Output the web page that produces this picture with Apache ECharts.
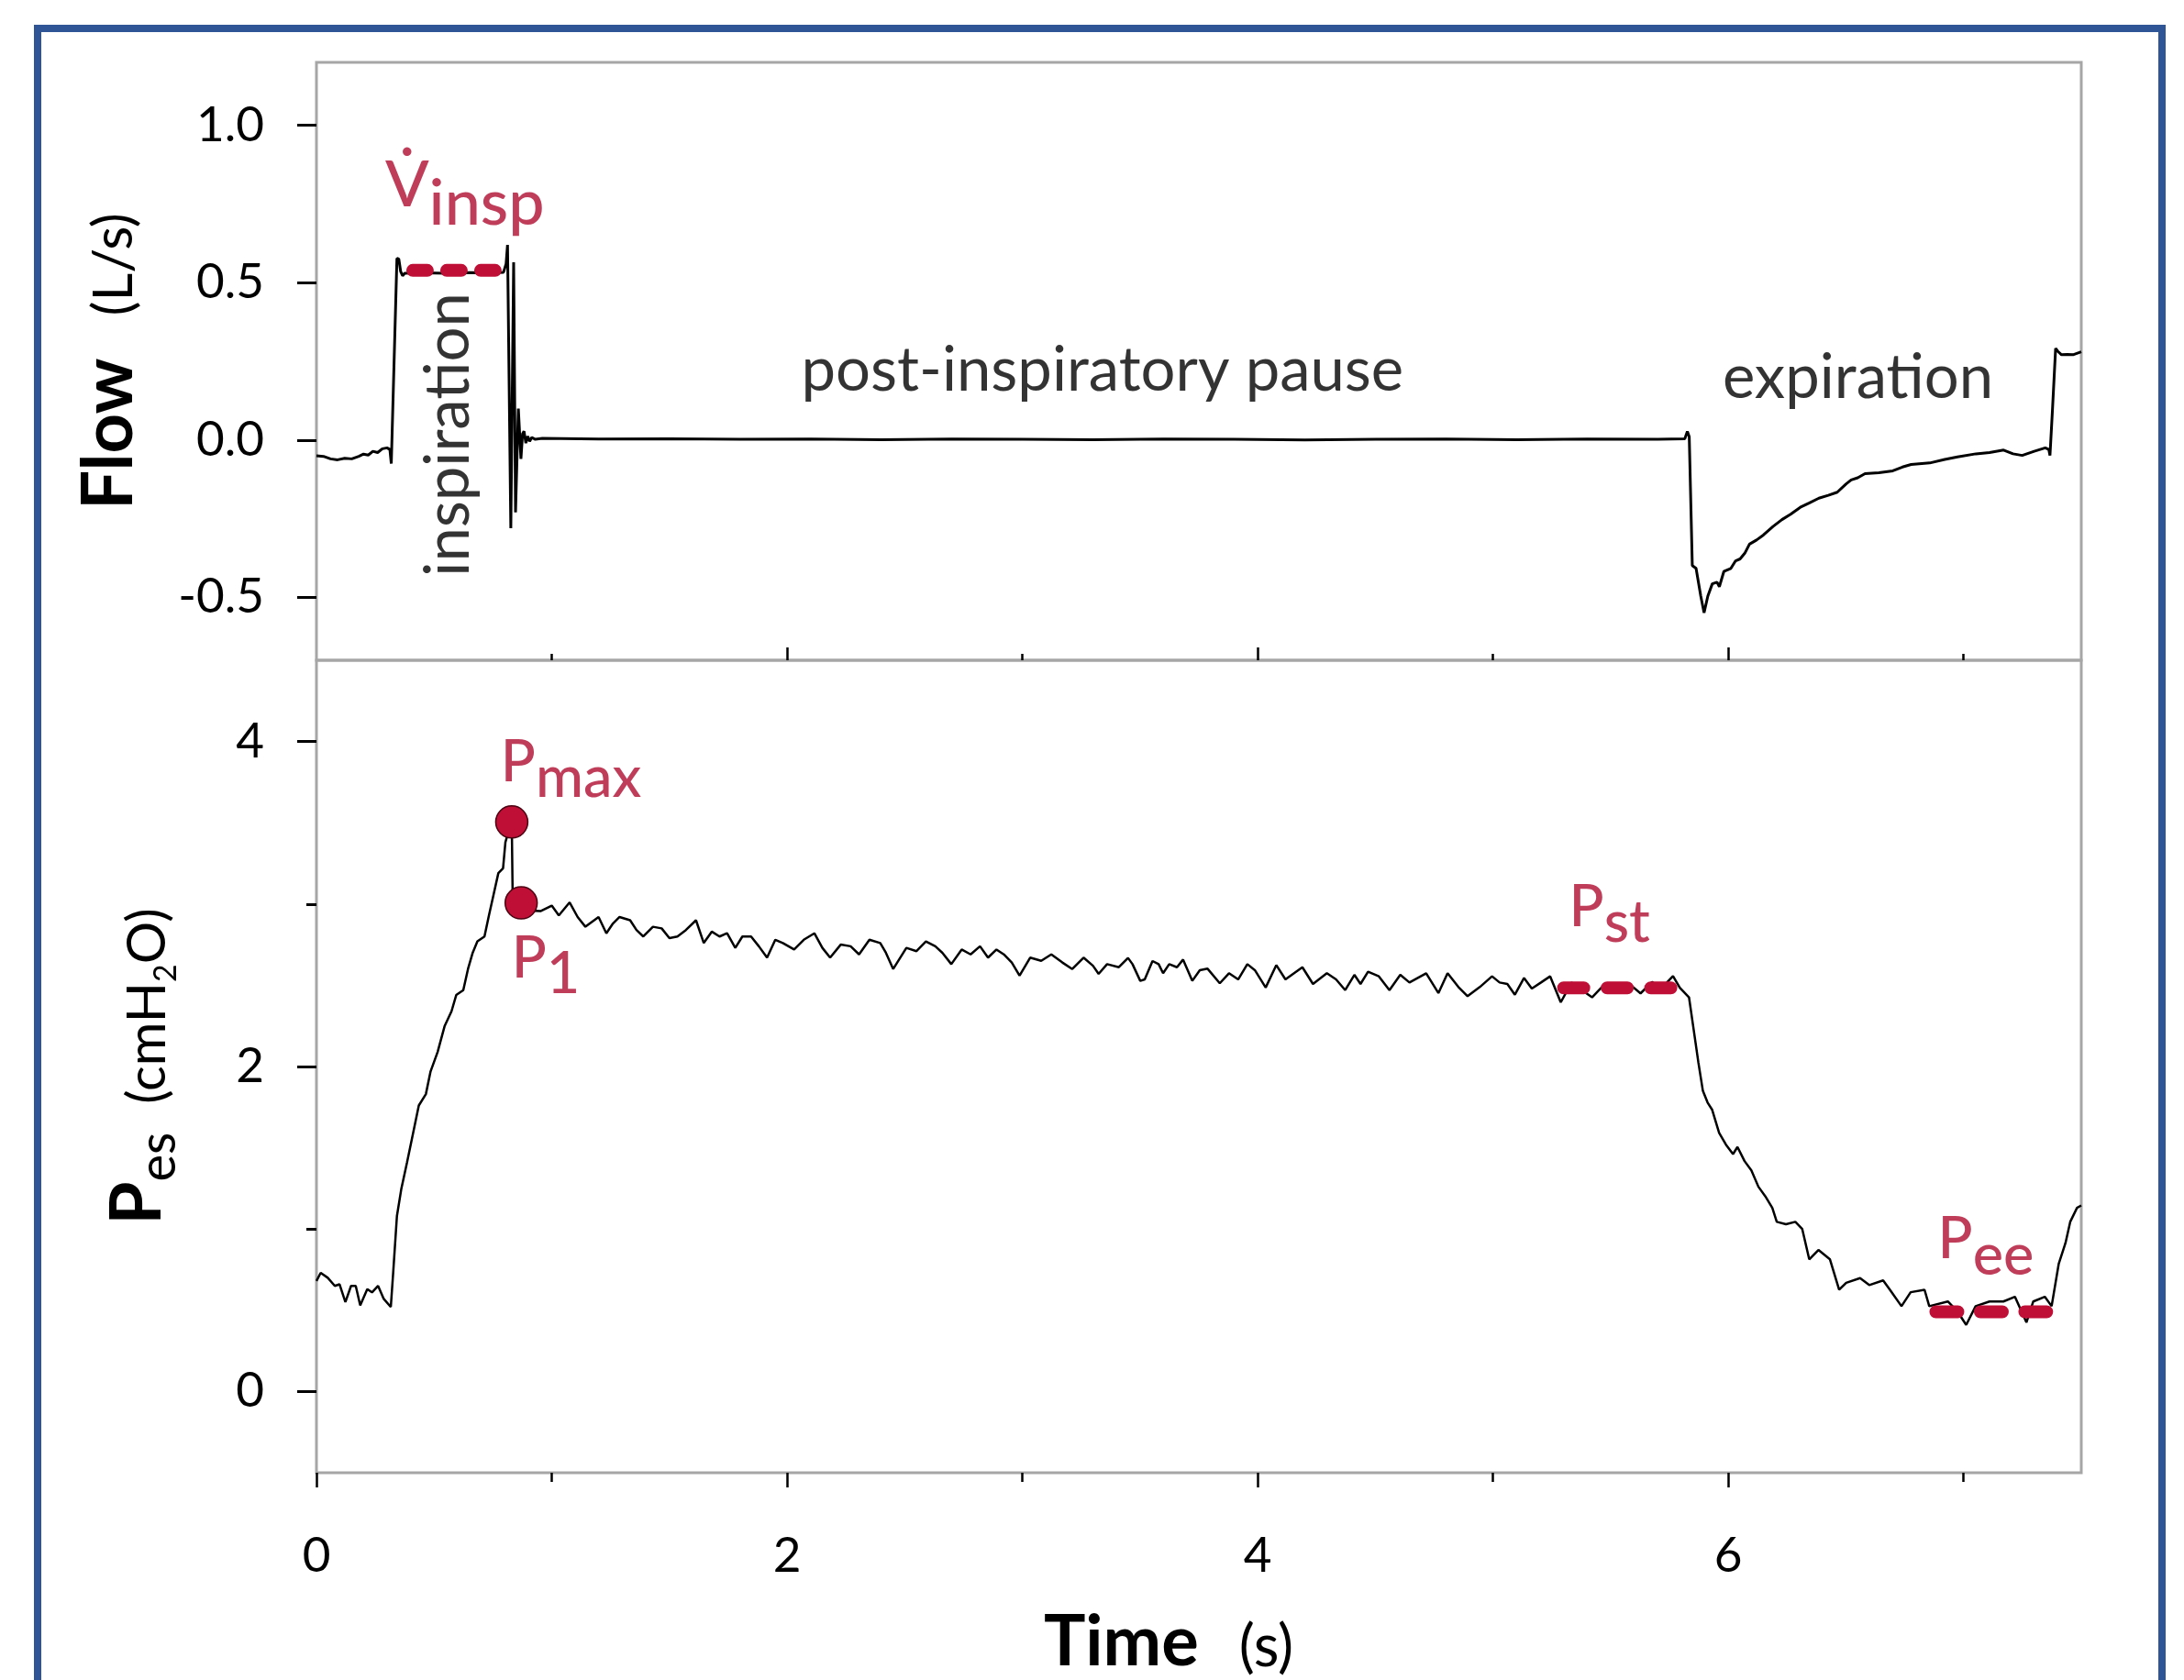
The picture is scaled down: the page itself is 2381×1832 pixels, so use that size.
<!DOCTYPE html>
<html>
<head>
<meta charset="utf-8">
<title>Flow and oesophageal pressure</title>
<script src="https://cdn.jsdelivr.net/npm/echarts@6/dist/echarts.min.js"></script>
<style>
  html, body { margin: 0; padding: 0; background: #ffffff; }
  #main { width: 2381px; height: 1832px; }
</style>
</head>
<body>
<div id="main"></div>
<script>
// ---- data (time in s) ----
var flowTrace = [
  [0.000,-0.050],[0.030,-0.052],[0.060,-0.060],[0.090,-0.063],[0.120,-0.058],[0.150,-0.060],[0.180,-0.052],
  [0.200,-0.045],[0.220,-0.048],[0.240,-0.036],[0.260,-0.040],[0.280,-0.028],[0.300,-0.025],[0.312,-0.030],
  [0.318,-0.075],[0.342,0.577],[0.350,0.575],[0.358,0.535],[0.366,0.522],[0.375,0.530],[0.450,0.531],
  [0.550,0.530],[0.650,0.532],[0.750,0.531],[0.795,0.533],[0.806,0.560],[0.812,0.620],[0.826,-0.280],
  [0.838,0.565],[0.846,-0.230],[0.858,0.100],[0.869,-0.060],[0.876,0.020],[0.882,0.028],[0.890,-0.010],
  [0.898,0.012],[0.906,-0.004],[0.915,0.008],[0.930,0.002],[0.960,0.005],[1.200,0.003],[1.500,0.004],
  [1.800,0.002],[2.100,0.003],[2.400,0.001],[2.700,0.003],[3.000,0.002],[3.300,0.001],[3.600,0.003],
  [3.900,0.002],[4.200,0.000],[4.500,0.002],[4.800,0.003],[5.100,0.001],[5.400,0.003],[5.700,0.002],
  [5.815,0.004],[5.826,0.027],[5.834,0.010],[5.847,-0.399],[5.863,-0.408],[5.883,-0.496],[5.897,-0.549],
  [5.913,-0.496],[5.932,-0.457],[5.952,-0.452],[5.962,-0.466],[5.981,-0.418],[6.011,-0.408],[6.031,-0.384],
  [6.050,-0.378],[6.070,-0.360],[6.090,-0.331],[6.120,-0.318],[6.149,-0.302],[6.190,-0.275],[6.228,-0.253],
  [6.265,-0.236],[6.306,-0.214],[6.345,-0.200],[6.385,-0.185],[6.425,-0.176],[6.463,-0.166],[6.500,-0.140],
  [6.522,-0.127],[6.550,-0.120],[6.581,-0.107],[6.640,-0.104],[6.699,-0.098],[6.740,-0.086],[6.777,-0.078],
  [6.856,-0.073],[6.920,-0.062],[6.974,-0.054],[7.052,-0.044],[7.110,-0.040],[7.170,-0.032],[7.210,-0.044],
  [7.249,-0.049],[7.300,-0.036],[7.347,-0.025],[7.362,-0.030],[7.367,-0.049],[7.377,0.087],[7.391,0.291],
  [7.400,0.282],[7.416,0.271],[7.440,0.272],[7.465,0.271],[7.500,0.280]
];

var pesTrace = [
  [0.000,0.68],[0.018,0.73],[0.048,0.70],[0.078,0.65],[0.098,0.66],[0.123,0.55],[0.147,0.65],[0.167,0.65],
  [0.186,0.53],[0.216,0.63],[0.236,0.61],[0.262,0.65],[0.286,0.57],[0.316,0.52],[0.326,0.73],[0.342,1.08],
  [0.361,1.25],[0.385,1.41],[0.405,1.55],[0.435,1.76],[0.465,1.83],[0.485,1.97],[0.515,2.09],[0.545,2.25],
  [0.574,2.34],[0.594,2.44],[0.624,2.47],[0.644,2.60],[0.664,2.70],[0.684,2.77],[0.714,2.80],[0.733,2.93],
  [0.753,3.06],[0.773,3.19],[0.793,3.22],[0.803,3.38],[0.817,3.45],[0.830,3.50],[0.834,3.03],[0.870,3.00],
  [0.905,2.96],[0.952,2.956],[1.000,2.99],[1.030,2.93],[1.076,3.01],[1.110,2.92],[1.143,2.86],[1.199,2.92],
  [1.232,2.82],[1.260,2.88],[1.288,2.92],[1.333,2.90],[1.360,2.84],[1.389,2.80],[1.430,2.86],[1.467,2.85],
  [1.500,2.79],[1.534,2.80],[1.570,2.84],[1.613,2.90],[1.646,2.76],[1.680,2.83],[1.713,2.80],[1.745,2.82],
  [1.780,2.73],[1.810,2.80],[1.847,2.80],[1.880,2.74],[1.915,2.67],[1.950,2.78],[1.982,2.76],[2.030,2.72],
  [2.071,2.78],[2.116,2.82],[2.150,2.73],[2.183,2.67],[2.228,2.75],[2.270,2.74],[2.306,2.69],[2.350,2.78],
  [2.396,2.76],[2.420,2.70],[2.451,2.60],[2.507,2.73],[2.550,2.71],[2.590,2.77],[2.630,2.74],[2.660,2.70],
  [2.698,2.63],[2.742,2.72],[2.780,2.69],[2.820,2.74],[2.854,2.67],[2.890,2.72],[2.921,2.69],[2.955,2.64],
  [2.988,2.56],[3.033,2.67],[3.080,2.65],[3.123,2.69],[3.170,2.64],[3.212,2.60],[3.260,2.67],[3.300,2.62],
  [3.324,2.57],[3.360,2.63],[3.410,2.611],[3.449,2.668],[3.468,2.63],[3.501,2.527],[3.520,2.536],[3.553,2.649],
  [3.579,2.63],[3.598,2.574],[3.624,2.63],[3.657,2.611],[3.683,2.658],[3.722,2.527],[3.754,2.593],[3.787,2.602],
  [3.839,2.512],[3.878,2.574],[3.917,2.536],[3.956,2.63],[3.988,2.593],[4.034,2.486],[4.079,2.624],[4.118,2.536],
  [4.190,2.611],[4.235,2.508],[4.294,2.574],[4.333,2.536],[4.372,2.470],[4.411,2.564],[4.437,2.508],[4.469,2.583],
  [4.515,2.555],[4.560,2.470],[4.606,2.564],[4.645,2.517],[4.716,2.574],[4.768,2.452],[4.807,2.574],[4.853,2.489],
  [4.892,2.433],[4.944,2.489],[4.996,2.555],[5.028,2.517],[5.061,2.508],[5.093,2.442],[5.132,2.545],[5.165,2.480],
  [5.204,2.517],[5.243,2.555],[5.288,2.395],[5.334,2.517],[5.386,2.461],[5.421,2.426],[5.460,2.484],[5.519,2.510],
  [5.578,2.510],[5.627,2.450],[5.676,2.520],[5.715,2.480],[5.765,2.556],[5.794,2.484],[5.833,2.426],[5.853,2.225],
  [5.873,2.023],[5.892,1.850],[5.912,1.778],[5.931,1.735],[5.961,1.591],[5.990,1.519],[6.020,1.461],[6.039,1.505],
  [6.069,1.418],[6.098,1.361],[6.128,1.260],[6.157,1.202],[6.187,1.130],[6.206,1.044],[6.245,1.029],[6.285,1.044],
  [6.314,1.001],[6.344,0.813],[6.383,0.871],[6.432,0.813],[6.471,0.626],[6.501,0.669],[6.560,0.698],[6.599,0.655],
  [6.658,0.684],[6.687,0.626],[6.736,0.525],[6.775,0.611],[6.834,0.626],[6.854,0.525],[6.933,0.554],[6.972,0.496],
  [7.011,0.410],[7.051,0.525],[7.110,0.554],[7.169,0.554],[7.218,0.583],[7.267,0.425],[7.296,0.554],[7.345,0.583],
  [7.374,0.525],[7.404,0.784],[7.433,0.914],[7.453,1.044],[7.482,1.130],[7.500,1.145]
];

// reference levels (dashed red) and points
var vinspLevel = [[0.409, 0.539], [0.760, 0.539]];
var pstLevel = [[5.300, 2.484], [5.756, 2.484]];
var peeLevel = [[6.882, 0.490], [7.353, 0.490]];
var pesPoints = [[0.830, 3.505], [0.870, 3.007]];

// tick values
var timeMajor = [0, 2, 4, 6];
var timeMinor = [1, 3, 5, 7];
var flowTicks = [-0.5, 0, 0.5, 1.0];
var pesMajor = [0, 2, 4];
var pesMinor = [1, 3];

// annotations: [t, value, text] / [t, value, main, subscript]
var flowNotes = [[3.34, 0.221, 'post-inspiratory pause'], [6.551, 0.195, 'expiration']];
var flowRotNotes = [[0.561, 0.017, 'inspiration']];
var flowMarks = [[0.292, 0.807, 'V\u0307', 'insp']];
var pesMarks = [[0.783, 3.871, 'P', 'max'], [0.829, 2.662, 'P', '1'], [5.323, 2.979, 'P', 'st'], [6.890, 0.934, 'P', 'ee']];

var FONT = 'Lato, "Open Sans", sans-serif';
var RED = '#C00F36';
var RED_TEXT = '#B00C31';

var dom = document.getElementById('main');
var myChart = echarts.init(dom);

function tickAxis(grid, vals, len, inside, withLabels, extra) {
  var ax = {
    gridIndex: grid, type: 'value', position: 'bottom',
    min: 0, max: 7.5,
    axisLine: { show: false, onZero: false }, splitLine: { show: false },
    axisTick: { show: true, inside: inside, length: len, customValues: vals, lineStyle: { color: '#000', width: 2.5 } },
    axisLabel: { show: withLabels, customValues: vals, fontSize: 53, color: '#000', fontFamily: FONT, margin: 64 }
  };
  return Object.assign(ax, extra || {});
}

function yAxisOf(grid, min, max, vals, len, withLabels, fmt, extra) {
  var ax = {
    gridIndex: grid, type: 'value', position: 'left',
    min: min, max: max,
    axisLine: { show: false, onZero: false }, splitLine: { show: false },
    axisTick: { show: true, inside: false, length: len, customValues: vals, lineStyle: { color: '#000', width: 3 } },
    axisLabel: { show: withLabels, customValues: vals, formatter: fmt, fontSize: 53, color: '#000', fontFamily: FONT, margin: 57 }
  };
  return Object.assign(ax, extra || {});
}

function dashSeries(points, xi, yi, dash) {
  return {
    type: 'line', xAxisIndex: xi, yAxisIndex: yi, data: points,
    symbol: 'none', silent: true, z: 5, animation: false,
    lineStyle: { color: RED, width: 14, type: dash, cap: 'round' }
  };
}

function markSeries(items, xi, yi, size) {
  return {
    type: 'scatter', xAxisIndex: xi, yAxisIndex: yi, symbolSize: 1, silent: true, z: 10,
    itemStyle: { color: 'rgba(0,0,0,0)' },
    data: items.map(function (m) {
      return {
        value: [m[0], m[1]],
        label: {
          show: true, position: 'inside', align: 'left', verticalAlign: 'middle',
          formatter: '{m|' + m[2] + '}{s|' + m[3] + '}',
          rich: {
            m: { fontSize: size, lineHeight: size * 1.2, color: RED_TEXT, fontFamily: FONT, fontWeight: 500 },
            s: { fontSize: size, lineHeight: size * 1.2, padding: [size * 0.55, 0, 0, 0], color: RED_TEXT, fontFamily: FONT, fontWeight: 500 }
          }
        }
      };
    })
  };
}

function noteSeries(items, xi, yi, rotate) {
  return {
    type: 'scatter', xAxisIndex: xi, yAxisIndex: yi, symbolSize: 1, silent: true, z: 10,
    itemStyle: { color: 'rgba(0,0,0,0)' },
    data: items.map(function (n) {
      return {
        value: [n[0], n[1]],
        label: {
          show: true, position: 'inside', align: 'center', verticalAlign: 'middle', rotate: rotate,
          formatter: n[2], fontSize: 67, color: '#000', fontFamily: FONT
        }
      };
    })
  };
}

var option = {
  backgroundColor: '#ffffff',
  animation: false,
  graphic: [{
    type: 'rect', silent: true, z: 100,
    shape: { x: 41, y: 31, width: 2316, height: 1900 },
    style: { fill: 'none', stroke: '#2F5597', lineWidth: 8 }
  }],
  grid: [
    { left: 345, top: 68, width: 1924, height: 652, show: true, borderColor: '#A6A6A6', borderWidth: 3, outerBoundsMode: 'none' },
    { left: 345, top: 720, width: 1924, height: 886, show: true, borderColor: '#A6A6A6', borderWidth: 3, outerBoundsMode: 'none' }
  ],
  xAxis: [
    tickAxis(0, timeMajor.slice(1), 14, true, false),
    tickAxis(0, timeMinor, 7, true, false),
    tickAxis(1, timeMajor, 16, false, true, {
      name: '{b|Time}{u|(s)}', nameLocation: 'middle', nameGap: 140, nameMoveOverlap: false,
      nameTextStyle: {
        padding: [0, 66, 0, 0],
        rich: {
          b: { fontSize: 76, fontWeight: 'bold', lineHeight: 90, color: '#000', fontFamily: FONT },
          u: { fontSize: 64, lineHeight: 76, padding: [10, 0, 0, 44], color: '#000', fontFamily: FONT }
        }
      }
    }),
    tickAxis(1, timeMinor, 10, false, false)
  ],
  yAxis: [
    yAxisOf(0, -0.7, 1.2, flowTicks, 21, true, function (v) { return v.toFixed(1); }, {
      name: '{b|Flow}{u|(L/s)}', nameLocation: 'middle', nameRotate: 90, nameGap: 181, nameMoveOverlap: false,
      nameTextStyle: {
        rich: {
          b: { fontSize: 76, fontWeight: 'bold', lineHeight: 90, color: '#000', fontFamily: FONT },
          u: { fontSize: 60, lineHeight: 72, padding: [12, 0, 0, 46], color: '#000', fontFamily: FONT }
        }
      }
    }),
    yAxisOf(1, -0.5, 4.5, pesMajor, 21, true, function (v) { return String(v); }, {
      name: '{b|P}{s|es}{u|(cmH}{t|2}{u|O)}', nameLocation: 'middle', nameRotate: 90, nameGap: 150, nameMoveOverlap: false,
      nameTextStyle: {
        rich: {
          b: { fontSize: 76, fontWeight: 'bold', lineHeight: 90, color: '#000', fontFamily: FONT },
          s: { fontSize: 56, lineHeight: 64, padding: [46, 31, 0, 0], color: '#000', fontFamily: FONT },
          u: { fontSize: 58, lineHeight: 70, padding: [22, 0, 0, 0], color: '#000', fontFamily: FONT },
          t: { fontSize: 34, lineHeight: 40, padding: [63, 0, 0, 0], color: '#000', fontFamily: FONT }
        }
      }
    }),
    yAxisOf(1, -0.5, 4.5, pesMinor, 11, false, null)
  ],
  series: [
    {
      type: 'line', xAxisIndex: 0, yAxisIndex: 0, data: flowTrace,
      symbol: 'none', silent: true, z: 2,
      lineStyle: { color: '#000', width: 3 }
    },
    {
      type: 'line', xAxisIndex: 2, yAxisIndex: 1, data: pesTrace,
      symbol: 'none', silent: true, z: 2,
      lineStyle: { color: '#000', width: 2.5 }
    },
    dashSeries(vinspLevel, 0, 0, [16, 21]),
    dashSeries(pstLevel, 2, 1, [22, 25.5]),
    dashSeries(peeLevel, 2, 1, [24, 24.5]),
    {
      type: 'scatter', xAxisIndex: 2, yAxisIndex: 1, data: pesPoints,
      symbol: 'circle', symbolSize: 35, silent: true, z: 6,
      itemStyle: { color: RED, borderColor: '#4A0010', borderWidth: 1.5, opacity: 1 }
    },
    markSeries(flowMarks, 0, 0, 70),
    markSeries(pesMarks, 2, 1, 63),
    noteSeries(flowNotes, 0, 0, 0),
    noteSeries(flowRotNotes, 0, 0, 90)
  ]
};

if (option && typeof option === 'object') {
  myChart.setOption(option);
}

window.onresize = function () {
  myChart.resize();
};
</script>
</body>
</html>
